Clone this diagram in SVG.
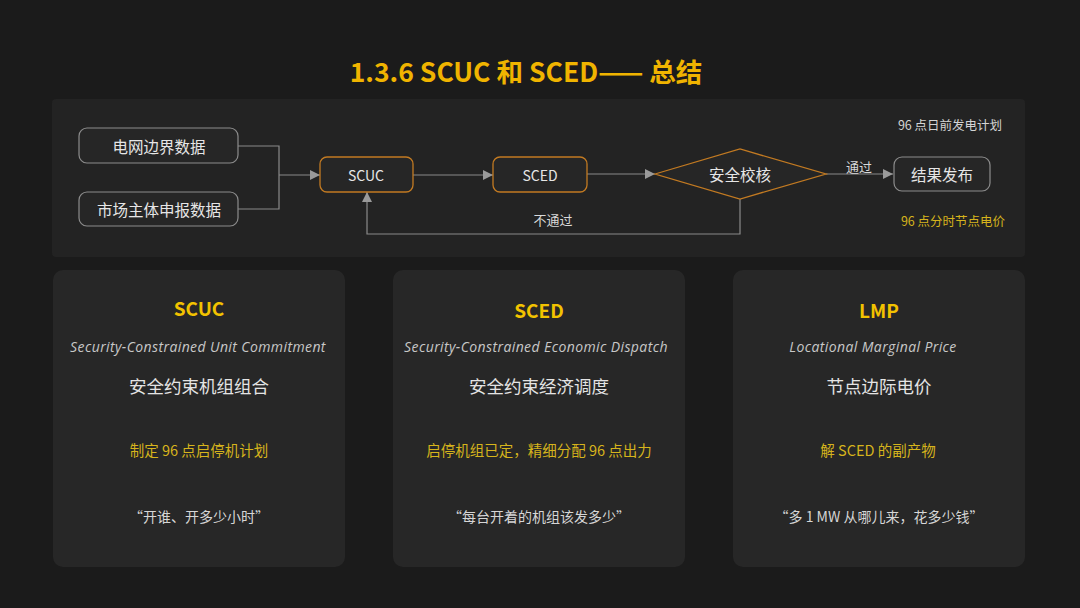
<svg xmlns="http://www.w3.org/2000/svg" width="1080" height="608" viewBox="0 0 1080 608">
<defs>
<style>
text{font-family:"Noto Sans CJK SC","Noto Sans",sans-serif;text-anchor:middle;dominant-baseline:central}
.box{fill:#262626;stroke:#8c8c8c;stroke-width:1.2}
.obox{fill:#262626;stroke:#c27a22;stroke-width:1.3}
.lbl{font-size:15.5px;fill:#e6e6e6}
.elbl{font-size:14px;fill:#e6e6e6}
.con{fill:none;stroke:#8a8a8a;stroke-width:1.2}
.card{fill:#272727}
.ct{font-size:19px;font-weight:bold;fill:#f2c200}
.cs{font-family:"Open Sans","Lato",sans-serif;font-style:italic;font-size:14px;letter-spacing:0.4px;fill:#c8c8c8}
.cz{font-size:17.5px;fill:#e4e4e4}
.cy{font-size:14.5px;fill:#d6b41c}
.cq{font-size:14px;fill:#d6d6d6}
</style>
<marker id="ah" viewBox="0 0 10 10" refX="10" refY="5" markerWidth="10" markerHeight="10" markerUnits="userSpaceOnUse" orient="auto">
<path d="M0,0 L10,5 L0,10 z" fill="#9a9a9a"/>
</marker>
</defs>
<rect width="1080" height="608" fill="#1b1b1b"/>
<text x="526" y="70" style="font-size:26.5px;font-weight:bold;fill:#f0b400">1.3.6 SCUC 和 SCED—— 总结</text>
<rect x="52" y="99" width="973" height="158" rx="4" fill="#232323"/>
<g id="connectors">
<path class="con" d="M238,146 H279 V209 H238"/>
<path class="con" d="M279,175 H320" marker-end="url(#ah)"/>
<path class="con" d="M413,175 H493" marker-end="url(#ah)"/>
<path class="con" d="M587,174 H655" marker-end="url(#ah)"/>
<path class="con" d="M826,174 H893" marker-end="url(#ah)"/>
<path class="con" d="M740,199 V234 H367 V192" marker-end="url(#ah)"/>
<text x="859" y="166" style="font-size:13px;fill:#d8d8d8">通过</text>
<text x="553" y="219" style="font-size:13px;fill:#d8d8d8">不通过</text>
</g>
<g id="n-grid"><rect class="box" x="79" y="128" width="159" height="35" rx="8"/><text class="lbl" x="159" y="146">电网边界数据</text></g>
<g id="n-market"><rect class="box" x="79" y="192" width="159" height="34" rx="8"/><text class="lbl" x="159" y="209">市场主体申报数据</text></g>
<g id="n-scuc"><rect class="obox" x="320" y="157" width="93" height="35" rx="7"/><text class="elbl" x="366" y="175">SCUC</text></g>
<g id="n-sced"><rect class="obox" x="493" y="157" width="94" height="35" rx="7"/><text class="elbl" x="540" y="175">SCED</text></g>
<g id="n-check"><polygon points="655,174 740,149 826,174 740,199" fill="#262626" stroke="#c27a22" stroke-width="1.3"/><text class="lbl" x="740" y="174">安全校核</text></g>
<g id="n-publish"><rect class="box" x="894" y="157" width="96" height="34" rx="8"/><text class="lbl" x="942" y="174">结果发布</text></g>
<g id="n-plan"><text x="950" y="124" style="font-size:12.5px;fill:#d4d4d4">96 点日前发电计划</text></g>
<g id="n-price"><text x="953" y="220" style="font-size:12.5px;fill:#d6b41c">96 点分时节点电价</text></g>
<g id="card-scuc">
<rect class="card" x="53" y="270" width="292" height="297" rx="10"/>
<text class="ct" x="199" y="307">SCUC</text>
<text class="cs" x="198" y="346">Security-Constrained Unit Commitment</text>
<text class="cz" x="199" y="385">安全约束机组组合</text>
<text class="cy" x="199" y="449">制定 96 点启停机计划</text>
<text class="cq" x="199" y="516">“开谁、开多少小时”</text>
</g>
<g id="card-sced">
<rect class="card" x="393" y="270" width="292" height="297" rx="10"/>
<text class="ct" x="539" y="309">SCED</text>
<text class="cs" x="536" y="346">Security-Constrained Economic Dispatch</text>
<text class="cz" x="539" y="385">安全约束经济调度</text>
<text class="cy" x="539" y="449">启停机组已定，精细分配 96 点出力</text>
<text class="cq" x="539" y="516">“每台开着的机组该发多少”</text>
</g>
<g id="card-lmp">
<rect class="card" x="733" y="270" width="292" height="297" rx="10"/>
<text class="ct" x="879" y="309">LMP</text>
<text class="cs" x="873" y="346">Locational Marginal Price</text>
<text class="cz" x="879" y="385">节点边际电价</text>
<text class="cy" x="878" y="449">解 SCED 的副产物</text>
<text class="cq" x="879" y="516">“多 1 MW 从哪儿来，花多少钱”</text>
</g>
</svg>
